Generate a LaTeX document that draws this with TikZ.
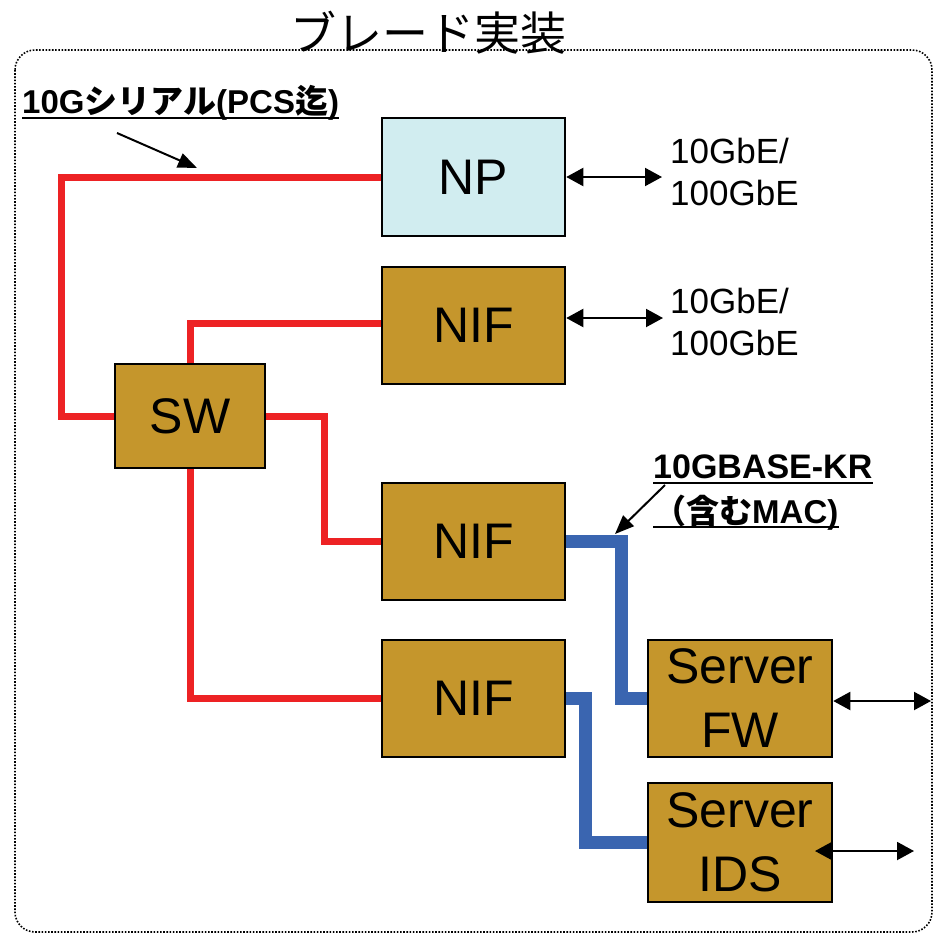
\documentclass[tikz,border=0pt]{standalone}
\usepackage{fontspec}
\setmainfont{Liberation Sans}
\newfontfamily\jp{Noto Sans CJK JP}
\usetikzlibrary{arrows.meta}

\definecolor{serialred}{RGB}{237,34,36}
\definecolor{krblue}{RGB}{58,101,176}
\definecolor{bladegold}{RGB}{197,150,44}
\definecolor{npcyan}{RGB}{209,237,240}

\begin{document}
\begin{tikzpicture}[x=1pt, y=-1pt,
  blk/.style={draw=black, line width=2.5pt, fill=bladegold, inner sep=0pt,
    minimum width=183pt, minimum height=117pt, align=center,
    font=\fontsize{50}{64}\selectfont},
  serial/.style={draw=serialred, line width=7pt},
  kr/.style={draw=krblue, line width=12.5pt},
  io/.style={line width=2pt, {Triangle[length=17pt,width=18pt]}-{Triangle[length=17pt,width=18pt]}},
  note/.style={line width=2pt, -{Triangle[length=19pt,width=15pt]}},
  rate/.style={anchor=west, inner sep=0pt, align=left, font=\fontsize{35}{42}\selectfont},
  tag/.style={anchor=base west, inner sep=0pt, font=\fontsize{33}{40}\selectfont\bfseries}]

  %% ════ 外枠とタイトル ════
  \draw[line width=1.6pt, dash pattern=on 1.6pt off 1.6pt, rounded corners=20pt] (15,50) rectangle (932,932);
  \node[inner sep=0pt, font=\fontsize{46}{55}\selectfont\jp] (title) at (428,33) {ブレード実装};

  %% ════ ブロック ════
  \node[blk, fill=npcyan, minimum height=118pt] (np) at (473.5,177) {NP};
  \node[blk] (nif1) at (473.5,325.5) {NIF};
  \node[blk, minimum width=150pt, minimum height=104pt] (sw) at (190,416) {SW};
  \node[blk] (nif2) at (473.5,541.5) {NIF};
  \node[blk] (nif3) at (473.5,698.5) {NIF};
  \node[blk, minimum width=184pt] (fw) at (740,698.5) {Server\\FW};
  \node[blk, minimum width=184pt, minimum height=119pt] (ids) at (740,842.5) {Server\\IDS};

  %% ════ 10G シリアル（赤）════
  \draw[serial] (np.west) -| ([xshift=-52pt]sw.west) -- (sw.west);
  \draw[serial] (nif1.west |- 0,323) -| (sw.north);
  \draw[serial] (sw.east) -- ++(58,0) |- (nif2.west);
  \draw[serial] (sw.south) |- (nif3.west);

  %% ════ 10GBASE-KR（青）════
  \draw[kr] (nif2.east) -- ++(55,0) |- (fw.west);
  \draw[kr] (nif3.east) -- ++(19,0) |- (ids.west);

  %% ════ 外部ポート ════
  \coordinate (npOut) at (662,177);
  \coordinate (nif1Out) at (663,318);
  \coordinate (fwOut) at (931,701);
  \coordinate (idsIn) at (815,851);
  \coordinate (idsOut) at (914,851);
  \draw[io] (np.east) -- (npOut);
  \draw[io] (nif1.east |- nif1Out) -- (nif1Out);
  \draw[io] (fw.east |- fwOut) -- (fwOut);
  \draw[io] (idsIn) -- (idsOut);

  \node[rate] (npRate) at (670,172) {10GbE/\\100GbE};
  \node[rate] (nif1Rate) at (670,322) {10GbE/\\100GbE};

  %% ════ 注記（太字＋下線）════
  \node[tag] (serialTag) at (22,113) {10G{\jp シリアル}(PCS{\jp 迄})};
  \draw[line width=2.5pt] ([yshift=-5pt]serialTag.base west) -- ([yshift=-5pt]serialTag.base east);
  \coordinate (serialTail) at (117,133);
  \coordinate (serialTip) at (197,168);
  \draw[note] (serialTail) -- (serialTip);

  \node[tag, font=\fontsize{34}{40}\selectfont\bfseries] (krTag) at (653,478) {10GBASE-KR};
  \node[tag] (macTag) at (653,523) {{\jp （含む}MAC)};
  \draw[line width=2.5pt] ([yshift=-5pt]krTag.base west) -- ([yshift=-5pt]krTag.base east);
  \draw[line width=2.5pt] ([yshift=-4pt]macTag.base west) -- ([yshift=-4pt]macTag.base east);
  \coordinate (krTail) at (665,485);
  \coordinate (krTip) at (615,534);
  \draw[note] (krTail) -- (krTip);

  % 画布を固定
  \pgfresetboundingbox
  \path[use as bounding box] (0,0) rectangle (941,934);
\end{tikzpicture}
\end{document}
